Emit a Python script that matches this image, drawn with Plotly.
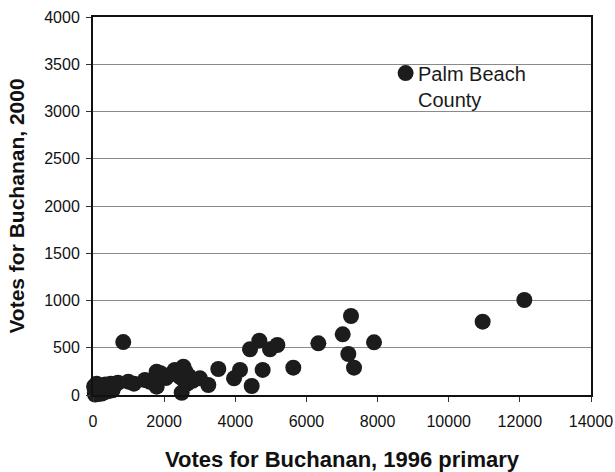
import plotly.graph_objects as go

# Buchanan votes by Florida county: 1996 Republican primary vs 2000 general election
votes_1996 = [
    50, 80, 120, 150, 200, 250, 300, 350, 400, 450, 500, 150, 30, 100, 250, 60,
    180, 320, 420, 600, 700, 550,
    850, 993, 1150, 1460, 1600, 1790, 1790, 1900, 2050, 2300, 2200, 2540, 2600,
    2450, 2700, 2650, 2493, 2800, 2550, 3008, 3242, 3523, 3964, 4133, 4461, 4414,
    4676, 4770, 4976, 5183, 5631, 6335, 7020, 7253, 7178, 7338, 7900, 10954,
    12126, 8788,
]
votes_2000 = [
    20, 50, 30, 80, 40, 100, 60, 110, 90, 70, 120, 10, 90, 120, 15, 5,
    60, 30, 40, 100, 130, 50,
    560, 141, 120, 159, 140, 247, 88, 230, 180, 265, 220, 300, 250,
    190, 200, 120, 24, 150, 160, 176, 106, 275, 176, 265, 95, 484,
    575, 265, 484, 529, 289, 547, 642, 836, 434, 289, 557, 776,
    1005, 3407,
]

x_ticks = [0, 2000, 4000, 6000, 8000, 10000, 12000, 14000]
y_ticks = [0, 500, 1000, 1500, 2000, 2500, 3000, 3500, 4000]

font_family = "Liberation Sans, Arial, sans-serif"

fig = go.Figure(
    go.Scatter(
        x=votes_1996,
        y=votes_2000,
        mode="markers",
        marker=dict(size=16, color="#1c1c1c", line=dict(width=0)),
        showlegend=False,
        cliponaxis=False,
    )
)

fig.add_annotation(
    x=8788, y=3407, text="Palm Beach", showarrow=False,
    xanchor="left", yanchor="middle", xshift=10, yshift=-1,
    font=dict(family=font_family, size=20, color="#1a1a1a"),
)
fig.add_annotation(
    x=8788, y=3407, text="County", showarrow=False,
    xanchor="left", yanchor="middle", xshift=10, yshift=-27,
    font=dict(family=font_family, size=20, color="#1a1a1a"),
)

axis_common = dict(
    showline=True, linecolor="#111111", linewidth=2, mirror=True,
    ticks="outside", ticklen=5, tickcolor="#333333", tickwidth=1,
    tickfont=dict(family=font_family, size=16, color="#111111"),
    zeroline=False, automargin=False,
)

fig.update_xaxes(
    range=[0, 14000], tickvals=x_ticks, ticktext=[str(v) for v in x_ticks],
    showgrid=False, ticklabelstandoff=6,
    title=dict(text="<b>Votes for Buchanan, 1996 primary</b>", standoff=24,
               font=dict(family=font_family, size=22, color="#111111")),
    **axis_common,
)
fig.update_yaxes(
    range=[0, 4000], tickvals=y_ticks, ticktext=[str(v) for v in y_ticks],
    showgrid=True, gridcolor="#8a8a8a", gridwidth=1, ticklabelstandoff=3,
    title=dict(text="<b>Votes for Buchanan, 2000</b>", standoff=14,
               font=dict(family=font_family, size=21, color="#111111")),
    **axis_common,
)

fig.update_layout(
    width=615, height=472,
    margin=dict(l=93, r=24, t=17, b=77),
    paper_bgcolor="white", plot_bgcolor="white",
)

fig.write_html("out.html")
